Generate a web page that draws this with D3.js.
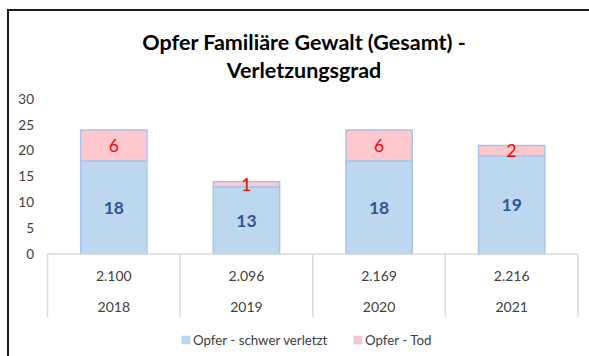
<!DOCTYPE html>
<html>
<head>
<meta charset="utf-8">
<script src="https://cdn.jsdelivr.net/npm/d3@7"></script>
<style>
  html, body { margin: 0; padding: 0; background: #fff; }
  svg { display: block; }
  text { font-family: Lato, "Open Sans", sans-serif; }
</style>
</head>
<body>
<svg id="chart" width="589" height="356"></svg>
<script>
// Victims of domestic violence by injury severity
const years = ["2018", "2019", "2020", "2021"];
const totals = ["2.100", "2.096", "2.169", "2.216"];
const schwerVerletzt = [18, 13, 18, 19];
const tod = [6, 1, 6, 2];
const yTicks = [0, 5, 10, 15, 20, 25, 30];
const seriesNames = ["Opfer - schwer verletzt", "Opfer - Tod"];

const colors = {
  blueFill: "#bdd7ee", blueStroke: "#a9c4ea",
  pinkFill: "#ffc7ce", pinkStroke: "#a9c4ea",
  blueText: "#2f5597", redText: "#ff0000",
  grid: "#d9d9d9", axisText: "#404040"
};

const svg = d3.select("#chart");
const W = 589, H = 356;

// outer frame (left and top edges)
svg.append("path")
  .attr("d", `M8,${H} L8,10 L${W},10`)
  .attr("fill", "none").attr("stroke", "#1a1a1a").attr("stroke-width", 2);

// title
const title = svg.append("text")
  .attr("x", 304).attr("text-anchor", "middle")
  .attr("font-size", 21.5).attr("font-weight", "bold").attr("fill", "#000");
title.append("tspan").attr("x", 304).attr("y", 50).text("Opfer Familiäre Gewalt (Gesamt) -");
title.append("tspan").attr("x", 304).attr("y", 78).text("Verletzungsgrad");

const plot = { left: 47.5, right: 578, top: 99, bottom: 254 };

const x = d3.scaleBand().domain(years).range([plot.left, plot.right]).paddingInner(0).paddingOuter(0);
const y = d3.scaleLinear().domain([0, 30]).range([plot.bottom, plot.top]);
const barW = x.bandwidth() * 0.5;

// y axis labels
const yAxis = d3.axisLeft(y).tickValues(yTicks).tickSize(0).tickPadding(0);
const gy = svg.append("g").attr("transform", `translate(34,0)`).call(yAxis);
gy.select(".domain").remove();
gy.selectAll("text").attr("font-size", 13.5).attr("fill", colors.axisText)
  .attr("font-family", "Lato, 'Open Sans', sans-serif");

// stacked bars
const stack = years.map((yr, i) => ({ yr, a: schwerVerletzt[i], b: tod[i] }));
const g = svg.append("g");

g.selectAll("rect.blue").data(stack).join("rect")
  .attr("class", "blue")
  .attr("x", d => x(d.yr) + (x.bandwidth() - barW) / 2)
  .attr("y", d => y(d.a))
  .attr("width", barW)
  .attr("height", d => y(0) - y(d.a))
  .attr("fill", colors.blueFill).attr("stroke", colors.blueStroke).attr("stroke-width", 1.5);

g.selectAll("rect.pink").data(stack).join("rect")
  .attr("class", "pink")
  .attr("x", d => x(d.yr) + (x.bandwidth() - barW) / 2)
  .attr("y", d => y(d.a + d.b))
  .attr("width", barW)
  .attr("height", d => y(d.a) - y(d.a + d.b))
  .attr("fill", colors.pinkFill).attr("stroke", colors.pinkStroke).attr("stroke-width", 1.5);

// value labels
g.selectAll("text.va").data(stack).join("text")
  .attr("class", "va")
  .attr("x", d => x(d.yr) + x.bandwidth() / 2)
  .attr("y", d => y(d.a / 2))
  .attr("dy", "0.36em")
  .attr("text-anchor", "middle")
  .attr("font-size", 17.5).attr("font-weight", "bold").attr("fill", colors.blueText)
  .text(d => d.a);

g.selectAll("text.vb").data(stack).join("text")
  .attr("class", "vb")
  .attr("x", d => x(d.yr) + x.bandwidth() / 2)
  .attr("y", d => y(d.a + d.b / 2))
  .attr("dy", "0.36em")
  .attr("text-anchor", "middle")
  .attr("font-size", 17.5).attr("fill", colors.redText)
  .text(d => d.b);

// category table below the axis
const tableBottom = 317;
svg.append("line")
  .attr("x1", plot.left).attr("x2", plot.right)
  .attr("y1", plot.bottom).attr("y2", plot.bottom)
  .attr("stroke", colors.grid).attr("stroke-width", 1.5);

const bounds = years.map(yr => x(yr)).concat([plot.right]);
svg.selectAll("line.vdiv").data(bounds).join("line")
  .attr("class", "vdiv")
  .attr("x1", d => d).attr("x2", d => d)
  .attr("y1", plot.bottom).attr("y2", tableBottom)
  .attr("stroke", colors.grid).attr("stroke-width", 1.5);

svg.selectAll("text.tot").data(years).join("text")
  .attr("class", "tot")
  .attr("x", d => x(d) + x.bandwidth() / 2)
  .attr("y", 281)
  .attr("text-anchor", "middle")
  .attr("font-size", 14).attr("fill", colors.axisText)
  .text((d, i) => totals[i]);

svg.selectAll("text.yr").data(years).join("text")
  .attr("class", "yr")
  .attr("x", d => x(d) + x.bandwidth() / 2)
  .attr("y", 312)
  .attr("text-anchor", "middle")
  .attr("font-size", 14).attr("fill", colors.axisText)
  .text(d => d);

// legend
const legend = [
  { name: seriesNames[0], fill: colors.blueFill, x: 182 },
  { name: seriesNames[1], fill: colors.pinkFill, x: 354 }
];
const lg = svg.selectAll("g.leg").data(legend).join("g")
  .attr("class", "leg")
  .attr("transform", d => `translate(${d.x},336)`);
lg.append("rect").attr("width", 8).attr("height", 8).attr("fill", d => d.fill)
  .attr("stroke", colors.blueStroke).attr("stroke-width", 0.5);
lg.append("text").attr("x", 11).attr("y", 9)
  .attr("font-size", 13.3).attr("fill", colors.axisText)
  .text(d => d.name);
</script>
</body>
</html>
